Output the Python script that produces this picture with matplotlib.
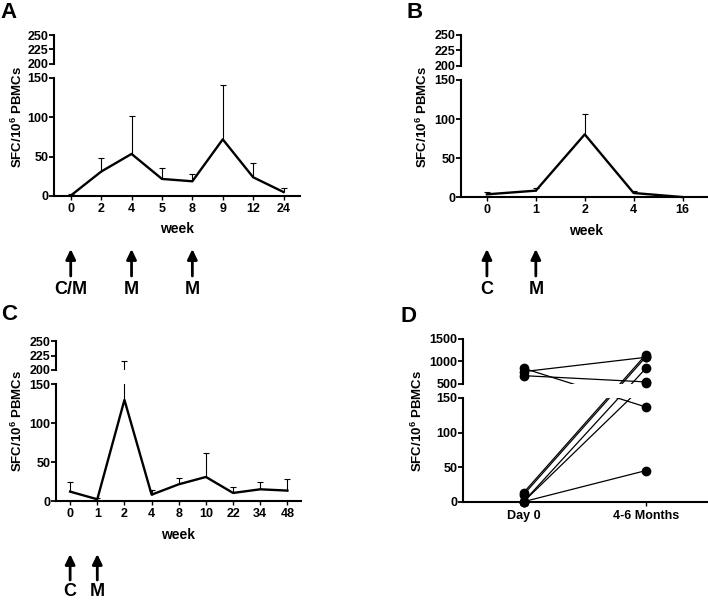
import numpy as np
import matplotlib
matplotlib.use('Agg')
import matplotlib.pyplot as plt
from matplotlib.patches import Rectangle

plt.rcParams['font.family'] = ['Liberation Sans', 'DejaVu Sans']
plt.rcParams['font.weight'] = 'bold'
plt.rcParams['mathtext.fontset'] = 'custom'
plt.rcParams['mathtext.rm'] = 'Liberation Sans:bold'
plt.rcParams['mathtext.default'] = 'rm'

# panel A
a_weeks = ['0', '2', '4', '5', '8', '9', '12', '24']
a_mean = [0.5, 31, 53.5, 21.7, 18.7, 72, 23.8, 5]
a_sd = [2.5, 17, 48, 13.5, 9.5, 69.5, 17.8, 4.8]
a_arrows = [0, 2, 4]
a_arrow_labels = ['C/M', 'M', 'M']

# panel B
b_weeks = ['0', '1', '2', '4', '16']
b_mean = [3.8, 8.5, 80.5, 5.5, 0.3]
b_sd = [2.6, 3, 26.5, 3, 0.7]
b_arrows = [0, 1]
b_arrow_labels = ['C', 'M']

# panel C
c_weeks = ['0', '1', '2', '4', '8', '10', '22', '34', '48']
c_mean = [12.4, 2.6, 130, 8.5, 21.8, 31.2, 10.7, 15.4, 13.7]
c_sd = [12.8, 1.7, 85.5, 6, 8.5, 30.3, 7.2, 9.4, 14.5]
c_arrows = [0, 1]
c_arrow_labels = ['C', 'M']

# panel D (paired subjects)
d_groups = ['Day 0', '4-6 Months']
d_day0 = [845, 770, 680, 13, 10, 0, 0, 0]
d_month = [137, 1090, 540, 1150, 1100, 845, 510, 45]

W, H = 708, 601
fig = plt.figure(figsize=(W / 100, H / 100), dpi=100)


def make_scale(vals, pix):
    v = np.array(vals, float)
    t = np.array(pix, float)
    s0 = (t[1] - t[0]) / (v[1] - v[0])
    s1 = (t[-1] - t[-2]) / (v[-1] - v[-2])
    big = 1e7
    vx = np.concatenate([[v[0] - big], v, [v[-1] + big]])
    tx = np.concatenate([[t[0] - big * s0], t, [t[-1] + big * s1]])
    return (lambda x: np.interp(x, vx, tx)), (lambda x: np.interp(x, tx, vx))


def broken_axes(left, right, y_px, brk, yticks, xlabels):
    # y_px: pixel rows of brk values (0, low break, high break, top)
    bottom, top = y_px[0], y_px[-1]
    ax = fig.add_axes([left / W, 1 - bottom / H, (right - left) / W, (bottom - top) / H])
    fwd, inv = make_scale(brk, [bottom - p for p in y_px])
    ax.set_yscale('function', functions=(fwd, inv))
    ax.set_ylim(brk[0], brk[-1])
    ax.set_yticks(yticks)
    ax.set_yticklabels([str(t) for t in yticks])
    ax.set_yticks([brk[1], brk[2]], minor=True)
    ax.tick_params(axis='y', which='major', direction='out', length=3.5, width=1.3,
                   labelsize=9, pad=0.5)
    ax.tick_params(axis='y', which='minor', direction='in', length=3, width=1.3)
    ax.set_xticks(range(len(xlabels)))
    ax.set_xticklabels(xlabels)
    ax.tick_params(axis='x', direction='out', length=3, width=1, labelsize=9, pad=2)
    for s in ['top', 'right', 'left']:
        ax.spines[s].set_visible(False)
    ax.spines['bottom'].set_linewidth(1.5)
    yt = ax.get_yaxis_transform()
    ax.add_patch(Rectangle((0, brk[1]), 1, brk[2] - brk[1], transform=yt,
                           facecolor='white', edgecolor='none', zorder=4, clip_on=False))
    ax.plot([0, 0], [brk[0], brk[1]], transform=yt, color='k', lw=1.5, clip_on=False, zorder=5)
    ax.plot([0, 0], [brk[2], brk[3]], transform=yt, color='k', lw=1.5, clip_on=False, zorder=5)
    return ax


def time_course(ax, mean, sd):
    x = np.arange(len(mean))
    top = np.array(mean) + np.array(sd)
    ax.vlines(x, mean, top, color='k', lw=0.8, zorder=2)
    ax.plot(x, top, ls='none', marker='_', ms=5, mew=0.8, color='k', zorder=2)
    ax.plot(x, mean, color='k', lw=1.7, clip_on=False, zorder=3)


def arrows(ax, pos, labels, y_tip, y_base, y_text):
    for p, lab in zip(pos, labels):
        ax.annotate('', xy=(p, 1 - y_tip / H), xytext=(p, 1 - y_base / H),
                    xycoords=('data', 'figure fraction'),
                    textcoords=('data', 'figure fraction'),
                    arrowprops=dict(arrowstyle='-|>,head_width=0.24,head_length=0.5',
                                    lw=2, color='k', mutation_scale=12, shrinkA=0, shrinkB=0))
        ax.annotate(lab, xy=(p, 1 - y_text / H), xycoords=('data', 'figure fraction'),
                    ha='center', va='center', fontsize=13, fontweight='bold')


ylab = 'SFC/10$^{6}$ PBMCs'
abc_ticks = [0, 50, 100, 150, 200, 225, 250]

# A
axA = broken_axes(54, 300, [196, 78, 63.5, 35], [0, 150, 200, 250], abc_ticks, a_weeks)
axA.set_xlim(-0.55, 7.54)
time_course(axA, a_mean, a_sd)
arrows(axA, a_arrows, a_arrow_labels, 249, 276, 290)

# B
axB = broken_axes(461, 707, [197.3, 80, 65.7, 34.7], [0, 150, 200, 250], abc_ticks, b_weeks)
axB.set_xlim(-0.53, 4.5)
time_course(axB, b_mean, b_sd)
arrows(axB, b_arrows, b_arrow_labels, 249, 276, 290)

# C
axC = broken_axes(56, 301, [501.3, 384.3, 370, 341], [0, 150, 200, 250], abc_ticks, c_weeks)
axC.set_xlim(-0.52, 8.5)
time_course(axC, c_mean, c_sd)
arrows(axC, c_arrows, c_arrow_labels, 554, 580, 592)

# D
axD = broken_axes(463, 707, [501.7, 398, 383.7, 339], [0, 150, 500, 1500],
                  [0, 50, 100, 150, 500, 1000, 1500], d_groups)
axD.set_xlim(-0.495, 1.5)
axD.tick_params(axis='x', pad=3)
for a, b in zip(d_day0, d_month):
    axD.plot([0, 1], [a, b], color='k', lw=0.9, zorder=2)
axD.plot(np.zeros(len(d_day0)), d_day0, 'o', color='k', ms=6, clip_on=False, zorder=6)
axD.plot(np.ones(len(d_month)), d_month, 'o', color='k', ms=6, clip_on=False, zorder=6)

# axis titles
for x, y in [(17, 117), (422, 117), (17, 421), (417, 421)]:
    fig.text(x / W, 1 - y / H, ylab, rotation=90, ha='center', va='center', fontsize=9.5)
for x, y in [(177, 229), (586, 231), (178, 535)]:
    fig.text(x / W, 1 - y / H, 'week', ha='center', va='center', fontsize=10)

# panel letters
for lab, x, y in [('A', 0, 12), ('B', 406, 12), ('C', 1, 315), ('D', 400, 316)]:
    fig.text(x / W, 1 - y / H, lab, ha='left', va='center', fontsize=16, fontweight='bold')

fig.savefig('out.png', dpi=100)
